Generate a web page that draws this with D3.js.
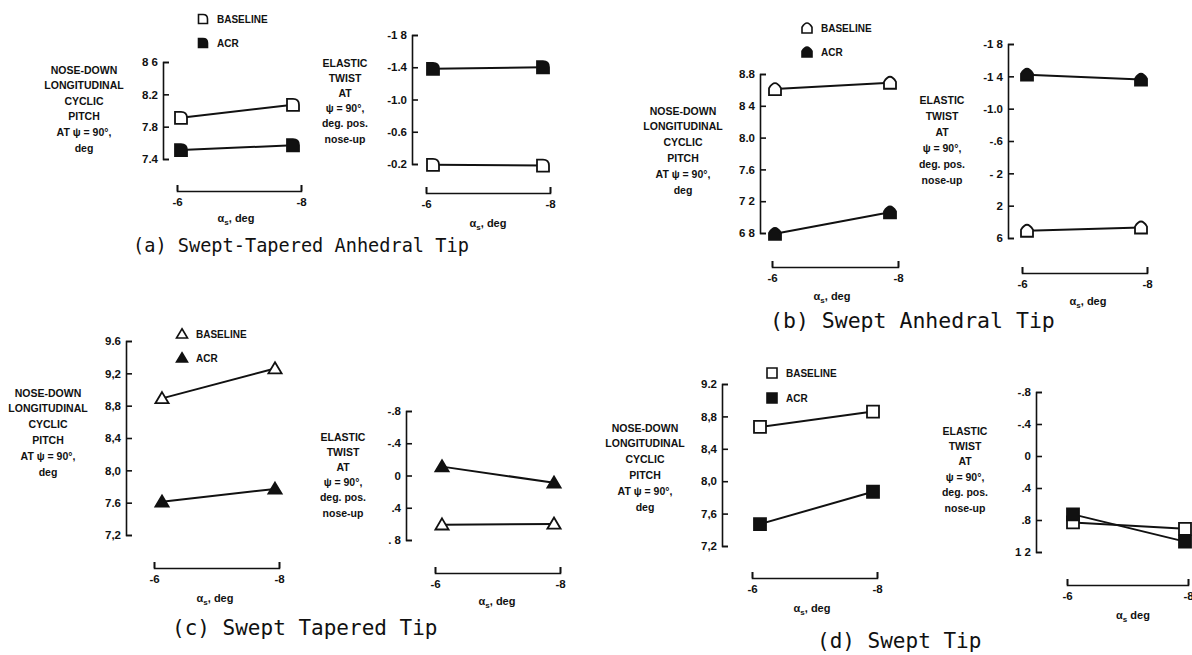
<!DOCTYPE html>
<html>
<head>
<meta charset="utf-8">
<script src="https://cdn.jsdelivr.net/npm/d3@7"></script>
<style>
body { margin: 0; background: #fff; }
svg text { font-family: "Liberation Sans", Arial, sans-serif; font-weight: bold; fill: #111; }
.axis path, .axis line { stroke: #111; stroke-width: 1.6; fill: none; }
.axis text { font-size: 11.5px; }
.ylab { font-size: 10.5px; }
.xlab { font-size: 11px; }
.legend { font-size: 10px; }
.caption { font-family: "DejaVu Sans Mono", monospace !important; font-weight: normal !important; }
.series { fill: none; stroke: #111; stroke-width: 2; }
</style>
</head>
<body>
<svg id="fig" width="1192" height="655"></svg>
<script>
// shaft angle values along the x axis
var xValues = [-6, -8];
var xTickLabels = ["-6", "-8"];

// (a) swept-tapered anhedral tip
var aPitchTicks = [8.6, 8.2, 7.8, 7.4];
var aPitchTickLabels = ["8 6", "8.2", "7.8", "7.4"];
var aPitchBaseline = [7.91, 8.07];
var aPitchACR = [7.51, 7.57];
var aTwistTicks = [-1.8, -1.4, -1.0, -0.6, -0.2];
var aTwistTickLabels = ["-1 8", "-1.4", "-1.0", "-0.6", "-0.2"];
var aTwistBaseline = [-0.19, -0.18];
var aTwistACR = [-1.38, -1.40];

// (b) swept anhedral tip
var bPitchTicks = [8.8, 8.4, 8.0, 7.6, 7.2, 6.8];
var bPitchTickLabels = ["8.8", "8 4", "8.0", "7.6", "7 2", "6 8"];
var bPitchBaseline = [8.61, 8.69];
var bPitchACR = [6.79, 7.06];
var bTwistTicks = [-1.8, -1.4, -1.0, -0.6, -0.2, 0.2, 0.6];
var bTwistTickLabels = ["-1 8", "-1 4", "-1.0", "-.6", "- 2", "2", "6"];
var bTwistBaseline = [0.51, 0.47];
var bTwistACR = [-1.42, -1.36];

// (c) swept tapered tip
var cPitchTicks = [9.6, 9.2, 8.8, 8.4, 8.0, 7.6, 7.2];
var cPitchTickLabels = ["9.6", "9,2", "8,8", "8,4", "8,0", "7.6", "7,2"];
var cPitchBaseline = [8.89, 9.26];
var cPitchACR = [7.61, 7.77];
var cTwistTicks = [-0.8, -0.4, 0, 0.4, 0.8];
var cTwistTickLabels = ["-.8", "-.4", "0", ".4", ". 8"];
var cTwistBaseline = [0.61, 0.60];
var cTwistACR = [-0.11, 0.09];

// (d) swept tip
var dPitchTicks = [9.2, 8.8, 8.4, 8.0, 7.6, 7.2];
var dPitchTickLabels = ["9.2", "8,8", "8,4", "8,0", "7,6", "7,2"];
var dPitchBaseline = [8.67, 8.86];
var dPitchACR = [7.47, 7.87];
var dTwistTicks = [-0.8, -0.4, 0, 0.4, 0.8, 1.2];
var dTwistTickLabels = ["-.8", "-.4", "0", ".4", ".8", "1 2"];
var dTwistBaseline = [0.83, 0.91];
var dTwistACR = [0.73, 1.07];

var pitchLabel = ["NOSE-DOWN", "LONGITUDINAL", "CYCLIC", "PITCH", "AT \u03c8 = 90\u00b0,", "deg"];
var twistLabel = ["ELASTIC", "TWIST", "AT", "\u03c8 = 90\u00b0,", "deg. pos.", "nose-up"];

var svg = d3.select("#fig");

// marker shapes, r = half size
var shapes = {
    flag: function(r) { return "M" + (-r) + "," + (-r) + "H0Q" + r + "," + (-r) + " " + r + ",0V" + r + "H" + (-r) + "Z"; },
    house: function(r) { return "M" + (-r) + "," + r + "H" + r + "V" + (-0.15 * r) + "Q" + (0.5 * r) + "," + (-r) + " 0," + (-r) + "Q" + (-0.5 * r) + "," + (-r) + " " + (-r) + "," + (-0.15 * r) + "Z"; },
    tri: function(r) { return "M0," + (-r * 1.05) + "L" + (r * 1.1) + "," + (r * 0.8) + "L" + (-r * 1.1) + "," + (r * 0.8) + "Z"; },
    square: function(r) { return "M" + (-r) + "," + (-r) + "H" + r + "V" + r + "H" + (-r) + "Z"; }
};

function drawChart(c) {
    var g = svg.append("g");
    var y = d3.scaleLinear().domain(c.domain).range(c.yRange);
    var xAxisScale = d3.scaleLinear().domain(xValues).range(c.bracket);
    // points sit a little inside the bracket ends
    var x = d3.scaleLinear().domain(xValues).range([c.bracket[0] + c.inset[0], c.bracket[1] - c.inset[1]]);

    g.append("g").attr("class", "axis")
        .attr("transform", "translate(" + c.axisX + ",0)")
        .call(d3.axisLeft(y).tickValues(c.ticks).tickFormat(function(d, i) { return c.tickLabels[i]; })
            .tickSizeInner(-6).tickSizeOuter(-6).tickPadding(5));

    g.append("g").attr("class", "axis")
        .attr("transform", "translate(0," + c.bracketY + ")")
        .call(d3.axisBottom(xAxisScale).tickValues(xValues).tickFormat(function(d, i) { return xTickLabels[i]; })
            .tickSizeInner(-6).tickSizeOuter(-6).tickPadding(7));

    var xt = g.append("text").attr("class", "xlab").attr("x", c.xTitle[0]).attr("y", c.xTitle[1])
        .attr("text-anchor", "middle").attr("dy", "0.2em");
    xt.append("tspan").text("\u03b1");
    xt.append("tspan").attr("font-size", "8px").attr("dy", "3").text("s");
    xt.append("tspan").attr("dy", "-3").text(c.comma ? ",  deg" : "  deg");

    var yl = g.append("text").attr("class", "ylab").attr("text-anchor", "middle");
    c.yLabel.forEach(function(s, i) {
        yl.append("tspan").attr("x", c.yLab[0]).attr("y", c.yLab[1] + i * c.yLab[2]).attr("dy", "0.35em").text(s);
    });

    var line = d3.line().x(function(d) { return x(d.x); }).y(function(d) { return y(d.v); });
    [{vals: c.base, fill: "#fff"}, {vals: c.acr, fill: "#111"}].forEach(function(s) {
        var pts = s.vals.map(function(v, i) { return {x: xValues[i], v: v}; });
        g.append("path").datum(pts).attr("class", "series").attr("d", line);
        g.selectAll(null).data(pts).enter().append("path")
            .attr("d", shapes[c.shape](c.r))
            .attr("transform", function(d) { return "translate(" + x(d.x) + "," + y(d.v) + ")"; })
            .attr("fill", s.fill).attr("stroke", "#111").attr("stroke-width", 1.8);
    });
}

function drawLegend(shape, pos, r) {
    var g = svg.append("g");
    [["BASELINE", "#fff", 0], ["ACR", "#111", pos[2]]].forEach(function(it) {
        g.append("path").attr("d", shapes[shape](r))
            .attr("transform", "translate(" + pos[0] + "," + (pos[1] + it[2]) + ")")
            .attr("fill", it[1]).attr("stroke", "#111").attr("stroke-width", 1.6);
        g.append("text").attr("class", "legend").attr("x", pos[0] + 14).attr("y", pos[1] + it[2])
            .attr("dy", "0.35em").text(it[0]);
    });
}

function caption(txt, x, y, size) {
    svg.append("text").attr("class", "caption").attr("x", x).attr("y", y).attr("dy", "0.35em")
        .style("font-size", size + "px").text(txt);
}

// (a)
drawChart({domain: [7.4, 8.6], yRange: [159, 62], ticks: aPitchTicks, tickLabels: aPitchTickLabels,
    base: aPitchBaseline, acr: aPitchACR, axisX: 163, bracket: [177, 301], bracketY: 191, inset: [4, 8],
    xTitle: [236, 220], comma: true, yLabel: pitchLabel, yLab: [84, 70, 15.6], shape: "flag", r: 6});
drawChart({domain: [-0.2, -1.8], yRange: [164, 35], ticks: aTwistTicks, tickLabels: aTwistTickLabels,
    base: aTwistBaseline, acr: aTwistACR, axisX: 412, bracket: [426, 550], bracketY: 193, inset: [7, 7],
    xTitle: [488, 225], comma: true, yLabel: twistLabel, yLab: [345, 63, 15.2], shape: "flag", r: 6});
drawLegend("flag", [203, 19, 24], 4.5);
caption("(a) Swept-Tapered Anhedral Tip", 133, 245, 18.6);

// (b)
drawChart({domain: [6.8, 8.8], yRange: [233, 74], ticks: bPitchTicks, tickLabels: bPitchTickLabels,
    base: bPitchBaseline, acr: bPitchACR, axisX: 760, bracket: [772, 898], bracketY: 267, inset: [3, 8],
    xTitle: [832, 298], comma: true, yLabel: pitchLabel, yLab: [683, 111, 15.8], shape: "house", r: 6});
drawChart({domain: [0.6, -1.8], yRange: [238, 44], ticks: bTwistTicks, tickLabels: bTwistTickLabels,
    base: bTwistBaseline, acr: bTwistACR, axisX: 1008, bracket: [1022, 1147], bracketY: 273, inset: [5, 6],
    xTitle: [1088, 303], comma: true, yLabel: twistLabel, yLab: [942, 100, 16], shape: "house", r: 6});
drawLegend("house", [807, 28, 24], 5);
caption("(b) Swept Anhedral Tip", 770, 320, 21.5);

// (c)
drawChart({domain: [7.2, 9.6], yRange: [535, 341], ticks: cPitchTicks, tickLabels: cPitchTickLabels,
    base: cPitchBaseline, acr: cPitchACR, axisX: 126, bracket: [154, 279], bracketY: 568, inset: [8, 4],
    xTitle: [215, 600], comma: true, yLabel: pitchLabel, yLab: [48, 393, 15.8], shape: "tri", r: 6});
drawChart({domain: [0.8, -0.8], yRange: [540, 411], ticks: cTwistTicks, tickLabels: cTwistTickLabels,
    base: cTwistBaseline, acr: cTwistACR, axisX: 406, bracket: [435, 560], bracketY: 573, inset: [7, 6],
    xTitle: [497, 603], comma: true, yLabel: twistLabel, yLab: [343, 437, 15.2], shape: "tri", r: 6});
drawLegend("tri", [182, 334, 24], 5);
caption("(c) Swept Tapered Tip", 172, 628, 21);

// (d)
drawChart({domain: [7.2, 9.2], yRange: [546, 384], ticks: dPitchTicks, tickLabels: dPitchTickLabels,
    base: dPitchBaseline, acr: dPitchACR, axisX: 722, bracket: [752, 877], bracketY: 578, inset: [8, 4],
    xTitle: [812, 610], comma: true, yLabel: pitchLabel, yLab: [645, 428, 15.8], shape: "square", r: 6});
drawChart({domain: [1.2, -0.8], yRange: [552, 392], ticks: dTwistTicks, tickLabels: dTwistTickLabels,
    base: dTwistBaseline, acr: dTwistACR, axisX: 1036, bracket: [1067, 1188], bracketY: 585, inset: [6, 3],
    xTitle: [1133, 617], comma: false, yLabel: twistLabel, yLab: [965, 431, 15.4], shape: "square", r: 6});
drawLegend("square", [772, 373, 25], 5);
caption("(d) Swept Tip", 817, 641, 21);
</script>
</body>
</html>
